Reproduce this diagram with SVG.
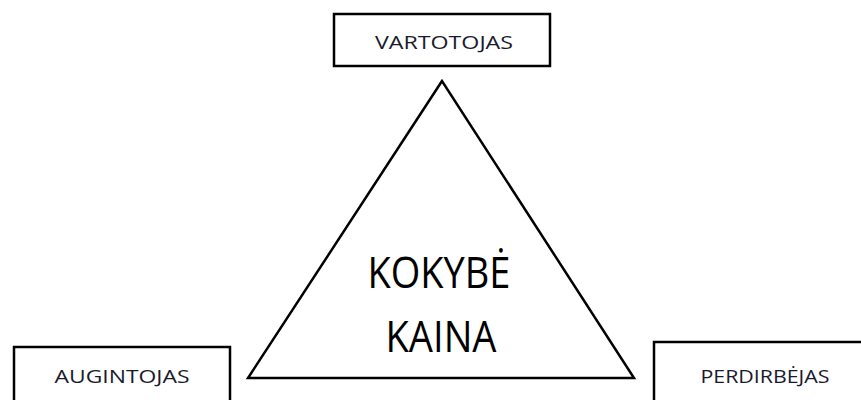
<svg xmlns="http://www.w3.org/2000/svg" width="861" height="400" viewBox="0 0 861 400">
<style>
.box{fill:#fff;stroke:#000;stroke-width:2.5}
.lbl{font-family:"Open Sans","Liberation Sans",sans-serif;font-size:19px;fill:#1a1a2e;text-anchor:middle}
.big{font-family:"Open Sans","Liberation Sans",sans-serif;font-size:44px;fill:#000;text-anchor:middle}
</style>
<rect width="861" height="400" fill="#fff"/>
<g id="connectors">
<polygon points="442,81 248,378 634,378" fill="none" stroke="#000" stroke-width="2.5" stroke-linejoin="miter"/>
</g>
<g id="vartotojas">
<rect class="box" x="334" y="14" width="216" height="52"/>
<text class="lbl" x="444" y="49" textLength="138" lengthAdjust="spacingAndGlyphs">VARTOTOJAS</text>
</g>
<g id="augintojas">
<rect class="box" x="14" y="347" width="216" height="60"/>
<text class="lbl" x="122" y="383" textLength="135" lengthAdjust="spacingAndGlyphs">AUGINTOJAS</text>
</g>
<g id="perdirbejas">
<rect class="box" x="654" y="342" width="220" height="65"/>
<text class="lbl" x="765" y="383" textLength="129" lengthAdjust="spacingAndGlyphs">PERDIRBĖJAS</text>
</g>
<g id="center">
<text class="big" x="439" y="288" textLength="143" lengthAdjust="spacingAndGlyphs">KOKYBĖ</text>
<text class="big" x="441" y="352" textLength="111" lengthAdjust="spacingAndGlyphs">KAINA</text>
</g>
</svg>
